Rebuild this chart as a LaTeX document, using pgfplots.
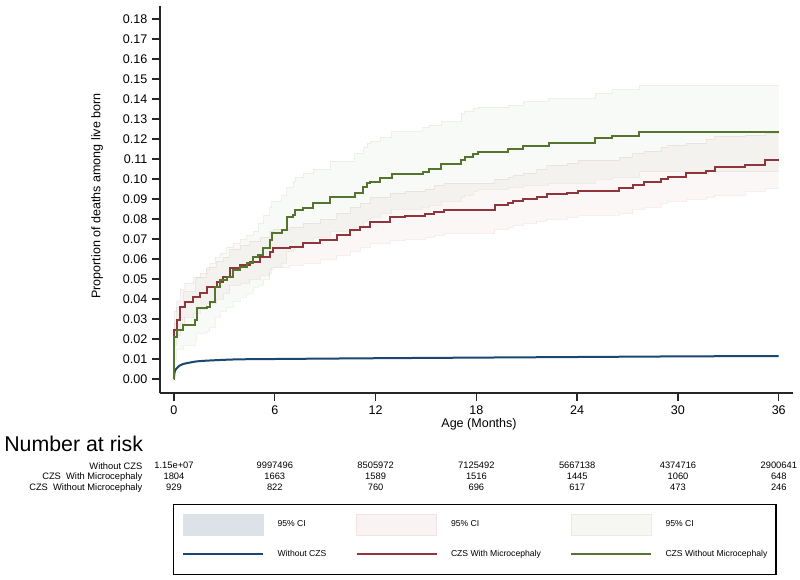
\documentclass[border=0pt]{standalone}
\usepackage{fontspec}
\setmainfont{Liberation Sans}
\usepackage{pgfplots}
\usepgfplotslibrary{fillbetween}
\usepackage{pgfplotstable}
\pgfplotsset{compat=1.18}

\definecolor{stnavy}{RGB}{26,71,111}
\definecolor{stmaroon}{RGB}{144,53,59}
\definecolor{stforest}{RGB}{85,117,47}
\definecolor{ciblue}{RGB}{221,226,233}
\definecolor{cired}{RGB}{250,243,244}
\definecolor{ciredb}{RGB}{242,226,229}
\definecolor{cigreen}{RGB}{246,247,242}
\definecolor{cigreenb}{RGB}{234,236,226}

\pgfplotstableread{
t est lo hi
0 0 0 0
0.03 0.0030 0.0029 0.0031
0.08 0.0045 0.0044 0.0046
0.16 0.0053 0.0052 0.0054
0.30 0.0065 0.0064 0.0066
0.55 0.0075 0.0074 0.0076
1.00 0.0083 0.0082 0.0084
1.35 0.0088 0.0087 0.0089
2.00 0.0092 0.0091 0.0093
3.70 0.0098 0.0097 0.0099
6.00 0.0100 0.0099 0.0101
9.00 0.0102 0.0101 0.0103
12.26 0.0104 0.0103 0.0105
18.00 0.0107 0.0106 0.0108
24.00 0.0110 0.0109 0.0111
30.00 0.0113 0.0112 0.0114
36.00 0.0115 0.0114 0.0116
}\bluetab

\pgfplotstableread{
t est lo hi
0 0 0 0
0.02 0.0245 0.017 0.034
0.16 0.0295 0.022 0.039
0.36 0.0358 0.028 0.045
0.65 0.0387 0.031 0.048
1.15 0.041 0.033 0.051
1.55 0.0428 0.035 0.053
1.95 0.0462 0.038 0.056
2.54 0.0487 0.040 0.059
2.94 0.0512 0.043 0.061
3.33 0.0553 0.047 0.065
3.93 0.057 0.048 0.067
4.52 0.0587 0.050 0.069
5.12 0.0612 0.052 0.071
5.71 0.0637 0.055 0.074
5.91 0.0653 0.056 0.075
6.9 0.066 0.057 0.076
7.7 0.0678 0.058 0.078
8.69 0.0695 0.060 0.080
9.68 0.072 0.062 0.083
10.5 0.0745 0.064 0.086
11.07 0.0762 0.066 0.088
11.67 0.0787 0.068 0.091
12.86 0.0808 0.0695 0.093
13.75 0.0815 0.070 0.094
14.94 0.0825 0.071 0.095
15.5 0.0837 0.072 0.097
16.1 0.0845 0.073 0.098
19.1 0.087 0.075 0.100
19.9 0.0878 0.076 0.101
20.2 0.089 0.077 0.102
20.8 0.090 0.078 0.103
21.6 0.0912 0.079 0.105
22.2 0.0923 0.080 0.107
23.4 0.0928 0.081 0.108
24.05 0.0942 0.082 0.1095
26.5 0.0953 0.083 0.111
27.3 0.097 0.085 0.113
28.0 0.0983 0.086 0.114
29.0 0.100 0.088 0.116
29.4 0.1012 0.089 0.117
30.5 0.1028 0.090 0.118
31.7 0.1041 0.091 0.120
32.2 0.1058 0.092 0.1215
34.0 0.107 0.094 0.122
35.2 0.1095 0.0953 0.1228
36 0.1095 0.0953 0.1228
}\redtab

\pgfplotstableread{
t est lo hi
0 0 0 0
0.02 0.021 0.010 0.028
0.16 0.0245 0.015 0.036
0.55 0.027 0.017 0.044
1.25 0.0295 0.019 0.050
1.35 0.0353 0.023 0.051
1.95 0.036 0.024 0.055
2.14 0.0387 0.026 0.058
2.44 0.0462 0.031 0.061
2.74 0.0495 0.034 0.063
3.14 0.0512 0.036 0.066
3.53 0.0545 0.039 0.068
3.93 0.056 0.041 0.070
4.33 0.0578 0.043 0.072
4.72 0.0612 0.046 0.074
5.0 0.062 0.047 0.078
5.32 0.0653 0.050 0.082
5.71 0.0695 0.053 0.086
5.81 0.0728 0.056 0.089
6.41 0.0745 0.058 0.092
6.71 0.0812 0.064 0.096
7.1 0.082 0.065 0.099
7.2 0.0845 0.067 0.101
7.7 0.0853 0.068 0.103
8.29 0.0878 0.071 0.105
9.29 0.0908 0.074 0.109
10.77 0.0928 0.076 0.113
11.27 0.0962 0.079 0.116
11.5 0.0978 0.080 0.118
11.67 0.0987 0.081 0.119
12.26 0.1003 0.083 0.121
12.96 0.1023 0.085 0.1237
14.8 0.1037 0.086 0.1258
15.2 0.1048 0.087 0.127
15.9 0.1075 0.089 0.1287
17.1 0.1095 0.091 0.1328
17.3 0.1112 0.092 0.134
17.8 0.1125 0.094 0.1353
18.1 0.1137 0.095 0.136
19.9 0.115 0.096 0.137
20.8 0.1165 0.097 0.1388
22.3 0.1178 0.098 0.1403
25.06 0.1205 0.100 0.143
26.1 0.1215 0.101 0.1448
27.7 0.1237 0.1037 0.147
36 0.1237 0.1037 0.147
}\greentab

\pgfplotsset{
  cibl/.style={legend image code/.code={\draw[fill=ciblue,draw=ciblue,line width=0.6pt,fill opacity=1,draw opacity=1] (0pt,-7.875pt) rectangle (60pt,7.875pt);}},
  cirl/.style={legend image code/.code={\draw[fill=cired,draw=ciredb,line width=0.6pt,fill opacity=1,draw opacity=1] (0pt,-7.875pt) rectangle (60pt,7.875pt);}},
  cigl/.style={legend image code/.code={\draw[fill=cigreen,draw=cigreenb,line width=0.6pt,fill opacity=1,draw opacity=1] (0pt,-7.875pt) rectangle (60pt,7.875pt);}},
  lnimg/.style={legend image code/.code={\path[draw=none,fill=none] (0pt,-7.875pt) rectangle (60pt,7.875pt); \draw[##1] (0pt,0pt) -- (60pt,0pt);}},
}

\begin{document}
\begin{tikzpicture}
\begin{axis}[
  at={(120pt,-294.75pt)}, anchor=south west,
  scale only axis, width=474.75pt, height=290.25pt,
  xmin=-0.83, xmax=36.85, ymin=-0.007, ymax=0.1865,
  axis lines*=left,
  axis line style={line width=1.1pt, black!85},
  xtick={0,6,12,18,24,30,36},
  ytick={0,0.01,0.02,0.03,0.04,0.05,0.06,0.07,0.08,0.09,0.10,0.11,0.12,0.13,0.14,0.15,0.16,0.17,0.18},
  tick align=outside, major tick length=6pt,
  tick style={line width=1.1pt, black!85},
  /pgf/number format/assume math mode=true,
  yticklabel style={/pgf/number format/.cd, fixed, fixed zerofill, precision=2, /tikz/.cd},
  tick label style={font=\fontsize{9.4}{11}\selectfont},
  xlabel={Age (Months)}, ylabel={Proportion of deaths among live born},
  label style={font=\fontsize{9.4}{11}\selectfont},
  xlabel style={at={(axis description cs:0.504,-0.0801)}, anchor=center},
  ylabel style={at={(axis description cs:-0.0995,0.509)}, anchor=center},
  legend columns=3,
  legend cell align=left,
  legend style={at={(axis description cs:0.02054,-0.2868)}, anchor=north west,
    draw=black, line width=0.9pt, inner xsep=6.5pt, inner ysep=7pt,
    font=\fontsize{6.45}{8}\selectfont, nodes={inner sep=0pt},
    row sep=6.1pt,
    /tikz/every odd column/.append style={column sep=10pt},
    /tikz/every even column/.append style={column sep=22pt}},
]
% blue CI
\addplot[name path=blo, draw=stnavy, draw opacity=0.15, line width=0.5pt, forget plot] table[x=t,y=lo]{\bluetab};
\addplot[name path=bhi, draw=stnavy, draw opacity=0.15, line width=0.5pt, forget plot] table[x=t,y=hi]{\bluetab};
\addplot[fill=stnavy, fill opacity=0.15, draw=none, cibl] fill between[of=bhi and blo];
\addlegendentry{95\% CI}
% red CI
\addplot[name path=rlo, const plot, draw=stmaroon, draw opacity=0.08, line width=0.6pt, forget plot] table[x=t,y=lo]{\redtab};
\addplot[name path=rhi, const plot, draw=stmaroon, draw opacity=0.08, line width=0.6pt, forget plot] table[x=t,y=hi]{\redtab};
\addplot[fill=stmaroon, fill opacity=0.04, draw=none, cirl] fill between[of=rhi and rlo];
\addlegendentry{95\% CI}
% green CI
\addplot[name path=glo, const plot, draw=stforest, draw opacity=0.08, line width=0.6pt, forget plot] table[x=t,y=lo]{\greentab};
\addplot[name path=ghi, const plot, draw=stforest, draw opacity=0.08, line width=0.6pt, forget plot] table[x=t,y=hi]{\greentab};
\addplot[fill=stforest, fill opacity=0.04, draw=none, cigl] fill between[of=ghi and glo];
\addlegendentry{95\% CI}
% lines
\addplot[stnavy, line width=1.5pt, smooth, lnimg] table[x=t,y=est]{\bluetab};
\addlegendentry{Without CZS}
\addplot[stmaroon, line width=1.5pt, const plot, lnimg] table[x=t,y=est]{\redtab};
\addlegendentry{CZS With Microcephaly}
\addplot[stforest, line width=1.5pt, const plot, lnimg] table[x=t,y=est]{\greentab};
\addlegendentry{CZS Without Microcephaly}
\end{axis}

% Number at risk table
\node[anchor=base west, font=\fontsize{16}{18}\selectfont, inner sep=0pt] at (3pt,-338.8pt) {Number at risk};
\begin{scope}[every node/.style={font=\fontsize{7}{8}\selectfont, inner sep=0pt}]
\node[anchor=east] at (107pt,-349.3pt) {Without CZS};
\node[anchor=east] at (107pt,-357.5pt) {CZS\hspace{0.56em}With Microcephaly};
\node[anchor=east] at (107pt,-365.8pt) {CZS\hspace{0.56em}Without Microcephaly};
\foreach \x/\a/\b/\c in {174/1.15e+07/1804/929, 274.8/9997496/1663/822, 375.6/8505972/1589/760, 476.4/7125492/1516/696, 577.2/5667138/1445/617, 678/4374716/1060/473, 778.8/2900641/648/246}{
  \node at (0.75*\x pt,-349.3pt) {\a};
  \node at (0.75*\x pt,-357.5pt) {\b};
  \node at (0.75*\x pt,-365.8pt) {\c};
}
\end{scope}
\path (0pt,0pt) rectangle (600pt,-434.25pt);
\end{tikzpicture}
\end{document}
